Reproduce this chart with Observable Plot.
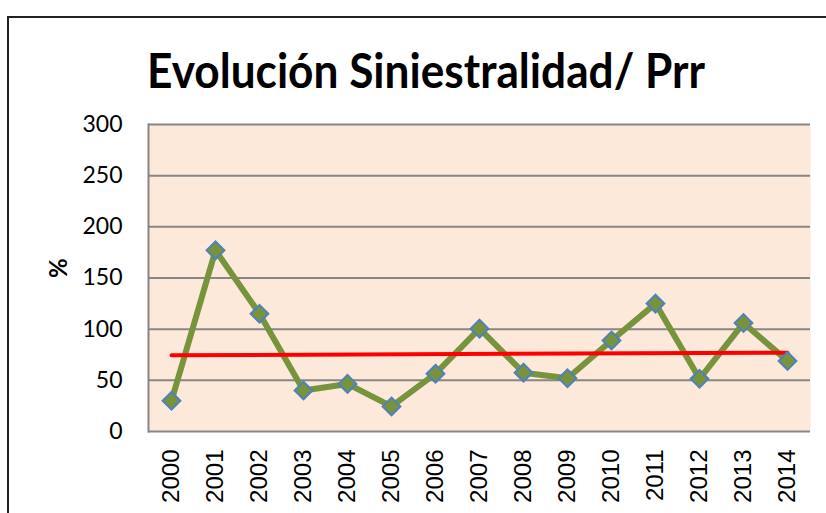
<!DOCTYPE html>
<html>
<head>
<meta charset="utf-8">
<script src="https://cdn.jsdelivr.net/npm/d3@7"></script>
<script src="https://cdn.jsdelivr.net/npm/@observablehq/plot@0.6"></script>
<style>
  html, body { margin: 0; padding: 0; background: #fff; }
  #wrap { position: relative; width: 826px; height: 513px; overflow: hidden; background: #fff; }
  #border { position: absolute; left: 7px; top: 16px; width: 900px; height: 600px; border-left: 2px solid #222; border-top: 2px solid #222; box-sizing: border-box; }
  #title { position: absolute; left: 0; top: 0; }
  #chart { position: absolute; left: 0; top: 100px; }
</style>
</head>
<body>
<div id="wrap">
  <div id="border"></div>
  <svg id="title" width="826" height="100">
    <text x="426" y="88" text-anchor="middle" textLength="558" lengthAdjust="spacingAndGlyphs"
      style="font-family: Lato, 'Open Sans', sans-serif; font-weight: bold; font-size: 47px; fill: #000;">Evolución Siniestralidad/ Prr</text>
  </svg>
  <div id="chart"></div>
</div>
<script>
const years = ["2000","2001","2002","2003","2004","2005","2006","2007","2008","2009","2010","2011","2012","2013","2014"];
const values = [30, 177, 115, 40, 46.5, 24.5, 56.5, 100.5, 57.5, 52, 89, 125, 51.5, 106, 69];
const trendYears = ["2000", "2014"];
const trendValues = [74.5, 77];
const yTicks = [0, 50, 100, 150, 200, 250, 300];

const rows = years.map((year, i) => ({year, value: values[i]}));
const trend = trendYears.map((year, i) => ({year, value: trendValues[i]}));

const chart = Plot.plot({
  width: 826,
  height: 413,
  marginLeft: 148,
  marginRight: 16,
  marginTop: 24,
  marginBottom: 82,
  style: { background: "transparent", fontFamily: "Lato, sans-serif", overflow: "visible" },
  x: { type: "point", domain: years, padding: 0.5, label: null },
  y: { domain: [0, 300], label: null },
  marks: [
    Plot.frame({ fill: "#fde9d9", stroke: null }),
    Plot.ruleY(yTicks, { stroke: "#868686", strokeWidth: 2 }),
    Plot.frame({ anchor: "left", stroke: "#868686", strokeWidth: 2 }),
    Plot.axisY({ ticks: yTicks, tickSize: 0, tickPadding: 26, fontSize: 23, fontFamily: "Lato, sans-serif", tickFormat: d => String(d), fill: "#000" }),
    Plot.axisX({ tickSize: 0, tickRotate: -90, tickPadding: 18, fontSize: 24, fontFamily: "'Liberation Sans', Arial, sans-serif", fill: "#000" }),
    Plot.line(rows, { x: "year", y: "value", stroke: "#77933c", strokeWidth: 6 }),
    Plot.line(trend, { x: "year", y: "value", stroke: "#ff0000", strokeWidth: 4 }),
    Plot.dot(rows, { x: "year", y: "value", symbol: "diamond2", r: 8, fill: "#77933c", stroke: "#4f81bd", strokeWidth: 2 }),
    Plot.text(["%"], { frameAnchor: "left", dx: -89, rotate: -90, fontWeight: "bold", fontSize: 24, fill: "#000", fontFamily: "Lato, sans-serif" })
  ]
});
document.getElementById("chart").appendChild(chart);
</script>
</body>
</html>
